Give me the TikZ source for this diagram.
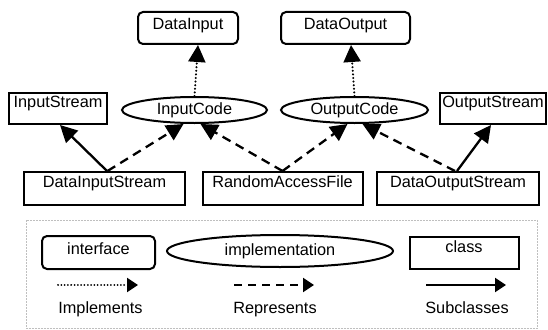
\documentclass[tikz,border=0pt]{standalone}
\usepackage{fontspec}
\setmainfont{Liberation Sans}
\usetikzlibrary{arrows.meta,calc,shapes.geometric}
\begin{document}
\begin{tikzpicture}[x=1pt,y=-1pt,
  base/.style={draw=black, line width=2pt, inner xsep=2pt, inner ysep=0pt, font=\fontsize{16.3}{19}\selectfont},
  iface/.style={base, rectangle, rounded corners=5pt},
  cls/.style={base, rectangle},
  impl/.style={base, ellipse, text height=11.5pt, text depth=3pt},
  bighead/.style={-{Triangle[length=17pt,width=17pt]}},
  smallhead/.style={-{Triangle[length=11pt,width=14pt]}},
  implements/.style={line width=2.3pt, line cap=round, dash pattern=on 0.01pt off 3.6pt},
  represents/.style={line width=2.3pt, dash pattern=on 9pt off 6pt},
  subclasses/.style={line width=2.3pt},
  lbl/.style={font=\fontsize{16.3}{19}\selectfont, anchor=base, inner sep=0pt},
  legendframe/.style={draw=gray!50, line width=1pt, dash pattern=on 2pt off 1pt},
]
\useasboundingbox (0,0) rectangle (548,329);

% top interfaces
\node[iface, minimum width=100pt, text height=18pt, text depth=14pt] (DataInput) at (188,28) {DataInput};
\node[iface, minimum width=129pt, text height=18pt, text depth=14pt] (DataOutput) at (345.5,28) {DataOutput};

% middle row
\node[cls, minimum width=98pt, text height=14pt, text depth=17pt] (InputStream) at (58,108.5) {InputStream};
\node[cls, minimum width=105pt, text height=14pt, text depth=17pt] (OutputStream) at (493,108.5) {OutputStream};
\node[impl, minimum width=145pt, minimum height=26pt] (InputCode) at (194.5,110) {InputCode};
\node[impl, minimum width=147pt, minimum height=26pt] (OutputCode) at (354.5,110) {OutputCode};

% bottom row
\node[cls, minimum width=161pt, text height=15pt, text depth=18pt] (DataInputStream) at (104.5,188.5) {DataInputStream};
\node[cls, minimum width=160pt, text height=15pt, text depth=18pt] (RandomAccessFile) at (282.5,188.5) {RandomAccessFile};
\node[cls, minimum width=162pt, text height=15pt, text depth=18pt] (DataOutputStream) at (458,188.5) {DataOutputStream};

% connectors
\draw[subclasses, bighead] ($(DataInputStream.north)+(2.5,0)$) -- ($(InputStream.south)+(2,0)$);
\draw[represents, bighead] ($(DataInputStream.north)+(3,0)$) -- ($(InputCode.south)+(-11,0)$);
\draw[represents, bighead] (RandomAccessFile.north) -- ($(InputCode.south)+(6,0)$);
\draw[represents, bighead] (RandomAccessFile.north) -- ($(OutputCode.south)+(-7,0)$);
\draw[represents, bighead] ($(DataOutputStream.north)+(-3,0)$) -- ($(OutputCode.south)+(8,0)$);
\draw[subclasses, bighead] ($(DataOutputStream.north)+(-1,0)$) -- ($(OutputStream.south)+(-2,0)$);
\draw[implements, bighead] (InputCode.north) -- ($(DataInput.south)+(10,0)$);
\draw[implements, bighead] (OutputCode.north) -- ($(DataOutput.south)+(5.5,0)$);

% legend
\draw[legendframe] (26,220) rectangle (537,328.5);
\node[iface, minimum width=113pt, text height=18pt, text depth=15pt] (interface) at (98.5,252.5) {interface};
\node[impl, minimum width=226pt, minimum height=32pt] (implementation) at (280,251) {implementation};
\node[cls, minimum width=109pt, text height=15pt, text depth=17pt] (class) at (464,253) {class};

\coordinate (i1) at (58,285);  \coordinate (i2) at (138,285);
\coordinate (r1) at (234,285); \coordinate (r2) at (314,285);
\coordinate (s1) at (426,285); \coordinate (s2) at (506,285);
\draw[implements, line width=2pt, dash pattern=on 0.01pt off 3.3pt, smallhead] (i1) -- (i2);
\draw[represents, dash pattern=on 8pt off 6pt, smallhead] (r1) -- (r2);
\draw[subclasses, smallhead] (s1) -- (s2);

\node[lbl] (limpl) at (100.5,313) {Implements};
\node[lbl] (lrep) at (275,313) {Represents};
\node[lbl] (lsub) at (467,313) {Subclasses};
\end{tikzpicture}
\end{document}
